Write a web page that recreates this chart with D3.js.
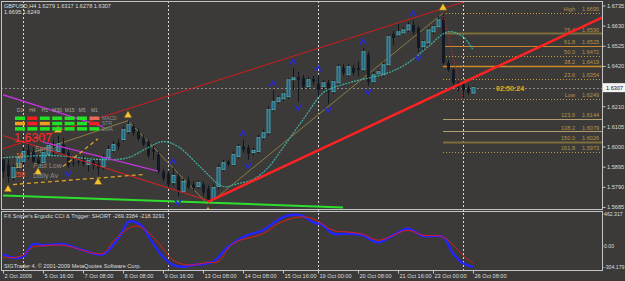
<!DOCTYPE html>
<html>
<head>
<meta charset="utf-8">
<script src="https://cdn.jsdelivr.net/npm/d3@7"></script>
<style>
  html, body { margin: 0; padding: 0; background: #3b3a38; }
  svg { display: block; font-family: "Liberation Sans", Arial, sans-serif; }
</style>
</head>
<body>
<div id="chart"></div>
<script>
// ---- GBPUSD H4 bars ----
const opens = [
  1.5932, 1.5906, 1.5838, 1.5890, 1.5922, 1.5984, 1.5974, 1.5932, 1.5916, 1.5958,
  1.6000, 1.5974, 1.6010, 1.5968, 1.5916, 1.5922, 1.5932, 1.5906, 1.5922, 1.5911,
  1.5896, 1.5942, 1.5979, 1.6020, 1.6036, 1.6078, 1.6104, 1.6078, 1.6046, 1.6026,
  1.5984, 1.5958, 1.5870, 1.5859, 1.5812, 1.5844, 1.5766, 1.5823, 1.5802, 1.5792,
  1.5802, 1.5781, 1.5724, 1.5792, 1.5880, 1.5922, 1.5906, 1.5948, 1.6000, 1.5994,
  1.5968, 1.5974, 1.6046, 1.6072, 1.6192, 1.6234, 1.6249, 1.6260, 1.6348, 1.6364,
  1.6358, 1.6312, 1.6353, 1.6327, 1.6312, 1.6332, 1.6286, 1.6332, 1.6410, 1.6374,
  1.6410, 1.6410, 1.6400, 1.6478, 1.6338, 1.6379, 1.6374, 1.6426, 1.6587, 1.6582,
  1.6592, 1.6608, 1.6634, 1.6618, 1.6520, 1.6540, 1.6598, 1.6624, 1.6660, 1.6436,
  1.6400, 1.6332, 1.6322, 1.6306, 1.6279
];
const highs = [
  1.5953, 1.5932, 1.5906, 1.5958, 1.5994, 1.6020, 1.5994, 1.5953, 1.5984, 1.6020,
  1.6036, 1.6057, 1.6046, 1.5984, 1.5942, 1.5937, 1.5953, 1.5942, 1.5932, 1.5932,
  1.5958, 1.6005, 1.6031, 1.6041, 1.6104, 1.6135, 1.6119, 1.6093, 1.6062, 1.6036,
  1.6015, 1.5974, 1.5885, 1.5875, 1.5890, 1.5859, 1.5833, 1.5844, 1.5818, 1.5823,
  1.5818, 1.5797, 1.5802, 1.5906, 1.5932, 1.5932, 1.5974, 1.6015, 1.6036, 1.6010,
  1.5994, 1.6062, 1.6088, 1.6208, 1.6296, 1.6265, 1.6286, 1.6358, 1.6410, 1.6390,
  1.6374, 1.6364, 1.6369, 1.6374, 1.6348, 1.6348, 1.6348, 1.6431, 1.6431, 1.6431,
  1.6426, 1.6442, 1.6514, 1.6494, 1.6390, 1.6400, 1.6442, 1.6582, 1.6603, 1.6639,
  1.6624, 1.6650, 1.6660, 1.6629, 1.6556, 1.6618, 1.6634, 1.6681, 1.6695, 1.6452,
  1.6410, 1.6348, 1.6338, 1.6322, 1.6317
];
const lows = [
  1.5838, 1.5812, 1.5823, 1.5880, 1.5906, 1.5932, 1.5901, 1.5901, 1.5906, 1.5948,
  1.5958, 1.5963, 1.5942, 1.5890, 1.5896, 1.5901, 1.5896, 1.5870, 1.5880, 1.5849,
  1.5880, 1.5932, 1.5968, 1.5984, 1.6026, 1.6067, 1.6057, 1.6031, 1.6000, 1.5942,
  1.5932, 1.5859, 1.5818, 1.5786, 1.5797, 1.5740, 1.5755, 1.5776, 1.5771, 1.5781,
  1.5745, 1.5698, 1.5708, 1.5776, 1.5870, 1.5896, 1.5896, 1.5937, 1.5968, 1.5932,
  1.5953, 1.5963, 1.6036, 1.6057, 1.6182, 1.6223, 1.6239, 1.6249, 1.6296, 1.6234,
  1.6296, 1.6296, 1.6322, 1.6260, 1.6296, 1.6223, 1.6275, 1.6322, 1.6369, 1.6364,
  1.6369, 1.6364, 1.6390, 1.6317, 1.6327, 1.6369, 1.6364, 1.6416, 1.6530, 1.6572,
  1.6582, 1.6598, 1.6582, 1.6494, 1.6504, 1.6530, 1.6587, 1.6618, 1.6426, 1.6390,
  1.6317, 1.6286, 1.6249, 1.6270, 1.6278
];
const closes = [
  1.5870, 1.5844, 1.5890, 1.5942, 1.5974, 1.5948, 1.5922, 1.5906, 1.5968, 1.6005,
  1.5974, 1.6015, 1.5958, 1.5901, 1.5911, 1.5916, 1.5911, 1.5927, 1.5901, 1.5890,
  1.5942, 1.5984, 1.6010, 1.6000, 1.6088, 1.6114, 1.6072, 1.6041, 1.6010, 1.5953,
  1.5974, 1.5870, 1.5833, 1.5802, 1.5849, 1.5766, 1.5818, 1.5786, 1.5786, 1.5812,
  1.5760, 1.5719, 1.5786, 1.5890, 1.5916, 1.5906, 1.5958, 1.6000, 1.5984, 1.5963,
  1.5979, 1.6046, 1.6072, 1.6192, 1.6234, 1.6254, 1.6275, 1.6348, 1.6358, 1.6348,
  1.6312, 1.6348, 1.6338, 1.6296, 1.6332, 1.6286, 1.6338, 1.6416, 1.6384, 1.6416,
  1.6384, 1.6400, 1.6494, 1.6338, 1.6374, 1.6390, 1.6426, 1.6572, 1.6566, 1.6598,
  1.6608, 1.6634, 1.6598, 1.6514, 1.6546, 1.6608, 1.6624, 1.6660, 1.6436, 1.6400,
  1.6332, 1.6312, 1.6296, 1.6280, 1.6307
];

// moving average (teal) and zigzag knots: bar index -> price
const maBars   = [0, 10, 20, 25, 29, 32, 35, 40, 44, 47, 50, 53, 56, 60, 64, 66, 70, 77, 81, 85, 89, 92, 94];
const maPrices = [1.5942, 1.5953, 1.5932, 1.5942, 1.5994, 1.6026, 1.6000, 1.5880, 1.5792, 1.5807, 1.5828, 1.5890,
                  1.5994, 1.6140, 1.6280, 1.6306, 1.6338, 1.6384, 1.6436, 1.6520, 1.6598, 1.6572, 1.6504];
const zigzagBars   = [5, 25, 41, 88];
const zigzagPrices = [1.5960, 1.6135, 1.5698, 1.6695];

// hand-drawn objects: [startBar, startPrice, endBar, endPrice]
const redUpperLine   = [0, 1.5989, 94, 1.6769];
const redLowerLine   = [0, 1.6057, 41, 1.5719];
const redTrendLine   = [41, 1.5712, 120, 1.6674];
const magentaLineA   = [0, 1.6270, 20, 1.6104];
const magentaLineB   = [8, 1.6023, 31, 1.5872];
const orangeDashA    = [2, 1.5802, 28, 1.5854];
const orangeDashB    = [12, 1.5896, 19, 1.6041];
const greenLine      = [0, 1.5745, 68, 1.5683];

// fibonacci retracement (High 1.6695 -> Low 1.6249)
const fibStartBar = 88;
const fibNames  = ['High', '76.4', '61.8', '50.0', '38.2', '23.6', 'Low', '123.6', '138.2', '150.0', '161.8'];
const fibPrices = [1.6695, 1.6590, 1.6525, 1.6472, 1.6419, 1.6354, 1.6249, 1.6144, 1.6079, 1.6026, 1.5973];
const fibBaseBars = [88, 92];

// fractal / signal markers
const fractalUpBars   = [25, 34, 48, 54, 58, 63, 72, 82];
const fractalDownBars = [13, 35, 49, 59, 65, 73, 83];
const signalUpBars    = [11, 25, 88];
const signalDownBars  = [1, 7, 19, 41];

// axes
const priceTicks = [1.6735, 1.6630, 1.6525, 1.6420, 1.6210, 1.6105, 1.6000, 1.5895, 1.5790, 1.5685];
const separatorBars = [4, 33, 63, 92];
const timeBars   = [0, 8, 16, 24, 32, 40, 48, 56, 63, 71, 79, 86, 94];
const timeLabels = ['2 Oct 2009', '5 Oct 16:00', '7 Oct 08:00', '8 Oct 08:00', '9 Oct 16:00', '13 Oct 08:00',
                    '14 Oct 08:00', '15 Oct 16:00', '19 Oct 00:00', '20 Oct 08:00', '21 Oct 16:00', '23 Oct 00:00', '26 Oct 08:00'];

// Ergodic CCI sub window
const ergoBlueBars = [0, 2, 4, 6, 8, 12, 16, 20, 22, 24, 25, 26, 28, 29, 32, 34, 36, 38, 42, 45,
                      48, 52, 53, 56, 58, 60, 62, 64, 66, 69, 72, 75, 78, 81, 84, 88, 90, 92, 94];
const ergoBlue = [-124, -172, -158, 22, 8, 22, -63, -124, 8, 221, 339, 349, 268, 150, -158, -276, -300, -276, -229, -16,
                  126, 221, 268, 410, 444, 424, 339, 292, 174, 174, 150, 46, 150, 245, 140, 126, -110, -251, -304];
const ergoRedBars = [0, 2, 4, 6, 8, 12, 20, 22, 25, 27, 29, 32, 34, 37, 41, 43, 46, 52, 55, 59,
                     62, 66, 69, 72, 75, 81, 84, 88, 92, 94];
const ergoRed = [-158, -172, -134, -16, -2, 8, -110, 55, 245, 282, 197, -38, -205, -276, -238, -229, 32, 174, 316, 410,
                 387, 221, 197, 164, 79, 221, 150, 126, -134, -251];
const ergoTicks  = [462.317, 0, -304.179];
const ergoLabels = ['462.317', '0.00', '-304.179'];

// dashboard in the top-left corner
const timeframes = ['D1', 'H4', 'H1', 'M30', 'M15', 'M5', 'M1'];
const signalRows = ['MACD', 'STR', 'EMA'];
const signalStates = [
  ['up', 'down', 'up', 'up', 'up', 'up', 'weak'],
  ['flat', 'down', 'flat', 'up', 'up', 'up', 'down'],
  ['up', 'up', 'up', 'up', 'up', 'up', 'up']
];

function renderChart(container) {
    const W = 625, H = 281;
    const plotLeft = 1, plotRight = 602;
    const mainTop = 1, mainBottom = 209;
    const indTop = 211, indBottom = 270;
    const fs = 5.6;
    const frameColor = '#c4c4c4';
    const textColor = '#dedede';

    const x = d3.scaleLinear().domain([0, opens.length - 1]).range([3, 473]);
    const y = d3.scaleLinear().domain([1.5685, 1.6735]).range([207, 5.5]);
    const yi = d3.scaleLinear().domain([-304.179, 462.317]).range([267, 213.5]);

    const svg = d3.select(container).append('svg')
        .attr('width', W)
        .attr('height', H)
        .attr('viewBox', [0, 0, W, H]);

    svg.append('rect').attr('width', W).attr('height', H).attr('fill', '#3b3a38');

    const defs = svg.append('defs');
    defs.append('clipPath').attr('id', 'clipMain').append('rect')
        .attr('x', plotLeft).attr('y', mainTop)
        .attr('width', plotRight - plotLeft).attr('height', mainBottom - mainTop);
    defs.append('clipPath').attr('id', 'clipInd').append('rect')
        .attr('x', plotLeft).attr('y', indTop)
        .attr('width', plotRight - plotLeft).attr('height', indBottom - indTop);

    const px = v => Math.round(v) + 0.5;

    // weekly separators (both windows)
    svg.append('g').selectAll('line')
        .data(separatorBars)
        .join('line')
        .attr('x1', d => px(x(d))).attr('x2', d => px(x(d)))
        .attr('y1', mainTop).attr('y2', indBottom)
        .attr('stroke', '#d8d8d8')
        .attr('stroke-dasharray', '2,2');

    const main = svg.append('g').attr('clip-path', 'url(#clipMain)');

    // bid line
    const bid = closes[closes.length - 1];
    main.append('line')
        .attr('x1', plotLeft).attr('x2', plotRight)
        .attr('y1', px(y(bid))).attr('y2', px(y(bid)))
        .attr('stroke', '#8c8c8c')
        .attr('stroke-dasharray', '2,2');

    // fibonacci levels
    const fibStyle = [
        { c: '#c89a3c', w: 1, d: '1,2' }, { c: '#7e6e3a', w: 2.2, d: null }, { c: '#c8892c', w: 1, d: null },
        { c: '#c89a3c', w: 1, d: '1,2' }, { c: '#d08a28', w: 1.6, d: null }, { c: '#c89a3c', w: 1, d: '1,2' },
        { c: '#b89a50', w: 1, d: '1,2' }, { c: '#b49c6c', w: 1, d: null }, { c: '#b49c6c', w: 1, d: null },
        { c: '#7e6e3a', w: 2.2, d: null }, { c: '#b89a50', w: 1, d: '1,2' }
    ];
    const fib = main.append('g');
    fib.selectAll('line')
        .data(fibPrices)
        .join('line')
        .attr('x1', x(fibStartBar)).attr('x2', plotRight)
        .attr('y1', d => px(y(d))).attr('y2', d => px(y(d)))
        .attr('stroke', (d, i) => fibStyle[i].c)
        .attr('stroke-width', (d, i) => fibStyle[i].w)
        .attr('stroke-dasharray', (d, i) => fibStyle[i].d);
    fib.selectAll('text.name')
        .data(fibNames)
        .join('text')
        .attr('class', 'name')
        .attr('x', 575)
        .attr('y', (d, i) => y(fibPrices[i]) - 1.8)
        .attr('text-anchor', 'end')
        .attr('font-size', fs)
        .attr('fill', '#b8924a')
        .text(d => d);
    fib.selectAll('text.val')
        .data(fibPrices)
        .join('text')
        .attr('class', 'val')
        .attr('x', 582)
        .attr('y', d => y(d) - 1.8)
        .attr('font-size', fs)
        .attr('fill', '#b8924a')
        .text(d => d.toFixed(4));

    // zigzag and moving average
    const line = d3.line().x(d => x(d[0])).y(d => y(d[1]));
    main.append('path')
        .datum(zigzagBars.map((b, i) => [b, zigzagPrices[i]]))
        .attr('d', line)
        .attr('fill', 'none')
        .attr('stroke', '#8c7c42')
        .attr('stroke-width', 1);

    // candles
    const candles = main.append('g')
        .selectAll('g')
        .data(d3.range(opens.length))
        .join('g');
    candles.append('line')
        .attr('x1', i => px(x(i))).attr('x2', i => px(x(i)))
        .attr('y1', i => y(highs[i])).attr('y2', i => y(lows[i]))
        .attr('stroke', '#0f1820')
        .attr('stroke-width', 1);
    candles.append('rect')
        .attr('x', i => Math.round(x(i)) - 1)
        .attr('width', 3)
        .attr('y', i => y(Math.max(opens[i], closes[i])))
        .attr('height', i => Math.max(1, Math.abs(y(opens[i]) - y(closes[i]))))
        .attr('fill', i => closes[i] >= opens[i] ? '#275f80' : '#111a24')
        .attr('stroke', i => closes[i] >= opens[i] ? '#4eb2b8' : 'none')
        .attr('stroke-width', 0.8);

    main.append('path')
        .datum(maBars.map((b, i) => [b, maPrices[i]]))
        .attr('d', line.curve(d3.curveCatmullRom))
        .attr('fill', 'none')
        .attr('stroke', '#3fb2a6')
        .attr('stroke-width', 1.2)
        .attr('stroke-dasharray', '2,1');
    line.curve(d3.curveLinear);

    // hand-drawn objects
    const seg = s => [[s[0], s[1]], [s[2], s[3]]];
    const objects = [
        { s: greenLine, c: '#2ede2e', w: 2, d: null },
        { s: redUpperLine, c: '#d01c1c', w: 1, d: null },
        { s: redLowerLine, c: '#e02020', w: 1, d: null },
        { s: magentaLineA, c: '#c034d8', w: 1.4, d: null },
        { s: magentaLineB, c: '#c034d8', w: 1.4, d: null },
        { s: orangeDashA, c: '#e0a024', w: 1.3, d: '4,3' },
        { s: orangeDashB, c: '#e0a024', w: 1.3, d: '4,3' },
        { s: redTrendLine, c: '#ff2222', w: 2.6, d: null }
    ];
    main.append('g').selectAll('path')
        .data(objects)
        .join('path')
        .attr('d', o => line(seg(o.s)))
        .attr('fill', 'none')
        .attr('stroke', o => o.c)
        .attr('stroke-width', o => o.w)
        .attr('stroke-dasharray', o => o.d);

    // fib base line (red dotted)
    main.append('path')
        .datum([[fibBaseBars[0], fibPrices[0]], [fibBaseBars[1], fibPrices[6]]])
        .attr('d', line)
        .attr('fill', 'none')
        .attr('stroke', '#e02020')
        .attr('stroke-dasharray', '1,2');

    // fractal arrows
    main.append('g').selectAll('path')
        .data(fractalUpBars)
        .join('path')
        .attr('transform', i => `translate(${x(i)},${y(highs[i]) - 6})`)
        .attr('d', 'M-3,2.5L0,-2.5L3,2.5')
        .attr('fill', 'none')
        .attr('stroke', '#2a2ad2')
        .attr('stroke-width', 1.6);
    main.append('g').selectAll('path')
        .data(fractalDownBars)
        .join('path')
        .attr('transform', i => `translate(${x(i)},${y(lows[i]) + 6})`)
        .attr('d', 'M-3,-2.5L0,2.5L3,-2.5')
        .attr('fill', 'none')
        .attr('stroke', '#2a2ad2')
        .attr('stroke-width', 1.6);

    // yellow signal markers
    const tri = 'M0,-4L4,3L-4,3Z';
    main.append('g').selectAll('path')
        .data(signalUpBars.map(i => [i, y(highs[i]) - 6])
            .concat(signalDownBars.map(i => [i, y(lows[i]) + 6])))
        .join('path')
        .attr('transform', d => `translate(${x(d[0])},${d[1]})`)
        .attr('d', tri)
        .attr('fill', '#f4c430')
        .attr('stroke', '#6a5418')
        .attr('stroke-width', 0.6);

    // current bar timer
    main.append('text')
        .attr('x', 496).attr('y', y(bid) + 3)
        .attr('font-size', 7).attr('font-weight', 'bold')
        .attr('fill', '#f0a214')
        .text('02:50:24');

    // dashboard
    const dash = svg.append('g');
    const stateColor = { up: '#22e022', down: '#f02020', flat: '#f0a020', weak: '#e86a5a' };
    dash.selectAll('text.tf')
        .data(timeframes)
        .join('text')
        .attr('class', 'tf')
        .attr('x', (d, j) => 20 + j * 12.4)
        .attr('y', 112)
        .attr('text-anchor', 'middle')
        .attr('font-size', 5)
        .attr('fill', '#a8a8a8')
        .text(d => d);
    signalStates.forEach((row, r) => {
        dash.selectAll(`rect.r${r}`)
            .data(row)
            .join('rect')
            .attr('class', `r${r}`)
            .attr('x', (d, j) => 15 + j * 12.4)
            .attr('y', 116.5 + r * 5.3)
            .attr('width', 10)
            .attr('height', 3.5)
            .attr('fill', d => stateColor[d]);
        dash.append('text')
            .attr('x', 102).attr('y', 120 + r * 5.3)
            .attr('font-size', 5)
            .attr('fill', '#8c8c8c')
            .text(signalRows[r]);
    });

    // info panel text
    const info = svg.append('g');
    info.append('text').attr('x', 14).attr('y', 142).attr('font-size', 12.5)
        .attr('fill', '#ff2a2a').text(bid.toFixed(4));
    [['Spread', 35, 151], ['Past Low', 33, 168], ['Daily Av', 33, 178]].forEach(t => {
        info.append('text').attr('x', t[1]).attr('y', t[2]).attr('font-size', 7)
            .attr('fill', '#9a9a9a').attr('opacity', 0.85).text(t[0]);
    });
    [['10', 16, 158, '#f08a24'], ['18', 15, 168, '#f08a24'], ['258', 14, 177, '#f0582a']].forEach(t => {
        info.append('text').attr('x', t[1]).attr('y', t[2]).attr('font-size', 6.5)
            .attr('fill', t[3]).text(t[0]);
    });

    // header
    svg.append('text').attr('x', 4).attr('y', 7.5).attr('font-size', fs).attr('fill', textColor)
        .text('GBPUSD,H4  1.6279 1.6317 1.6278 1.6307');
    svg.append('text').attr('x', 4).attr('y', 14).attr('font-size', fs).attr('fill', textColor)
        .text(`${fibPrices[0].toFixed(4)}:${fibPrices[6].toFixed(4)}`);

    // indicator window
    const ind = svg.append('g').attr('clip-path', 'url(#clipInd)');
    const iline = d3.line().x(d => x(d[0])).y(d => yi(d[1])).curve(d3.curveCatmullRom);
    ind.append('path')
        .datum(ergoBlueBars.map((b, i) => [b, ergoBlue[i]]))
        .attr('d', iline)
        .attr('fill', 'none')
        .attr('stroke', '#2424ff')
        .attr('stroke-width', 2.4);
    ind.append('path')
        .datum(ergoRedBars.map((b, i) => [b, ergoRed[i]]))
        .attr('d', iline)
        .attr('fill', 'none')
        .attr('stroke', '#e01c1c')
        .attr('stroke-width', 1);
    svg.append('text').attr('x', 4).attr('y', 217.5).attr('font-size', fs).attr('fill', textColor)
        .text("FX Sniper's Ergodic CCI & Trigger: SHORT -269.3384 -218.3291");
    svg.append('text').attr('x', 4).attr('y', 267.5).attr('font-size', fs).attr('fill', textColor)
        .text('SIGTrader 4, \u00a9 2001-2009 MetaQuotes Software Corp.');

    // frames
    svg.append('rect')
        .attr('x', plotLeft + 0.5).attr('y', mainTop + 0.5)
        .attr('width', plotRight - plotLeft).attr('height', mainBottom - mainTop)
        .attr('fill', 'none').attr('stroke', frameColor);
    svg.append('rect')
        .attr('x', plotLeft + 0.5).attr('y', indTop + 0.5)
        .attr('width', plotRight - plotLeft).attr('height', indBottom - indTop)
        .attr('fill', 'none').attr('stroke', frameColor);

    // price axis
    const styleAxis = g => {
        g.select('.domain').remove();
        g.selectAll('line').attr('stroke', frameColor);
        g.selectAll('text').attr('fill', textColor).attr('font-size', fs)
            .attr('font-family', '"Liberation Sans", Arial, sans-serif');
    };
    svg.append('g')
        .attr('transform', `translate(${plotRight + 0.5},0)`)
        .call(d3.axisRight(y).tickValues(priceTicks).tickFormat(d3.format('.4f')).tickSize(3).tickPadding(1.5))
        .call(styleAxis);

    // bid price box
    svg.append('rect').attr('x', 603).attr('y', y(bid) - 4.5).attr('width', 22).attr('height', 9)
        .attr('fill', '#f4f4f4');
    svg.append('text').attr('x', 606).attr('y', y(bid) + 2).attr('font-size', fs).attr('fill', '#111')
        .text(bid.toFixed(4));

    // indicator axis
    svg.append('g')
        .attr('transform', `translate(${plotRight + 0.5},0)`)
        .call(d3.axisRight(yi).tickValues(ergoTicks).tickFormat((d, i) => ergoLabels[i]).tickSize(1).tickPadding(0.5))
        .call(styleAxis)
        .call(g => g.selectAll('text').attr('font-size', 5.2));

    // time axis
    svg.append('g')
        .attr('transform', `translate(0,${indBottom + 0.5})`)
        .call(d3.axisBottom(x).tickValues(timeBars).tickFormat((d, i) => timeLabels[i]).tickSize(3).tickPadding(1))
        .call(styleAxis)
        .call(g => g.selectAll('text').attr('text-anchor', 'start').attr('x', 1));
}

renderChart(document.getElementById('chart'));
</script>
</body>
</html>
